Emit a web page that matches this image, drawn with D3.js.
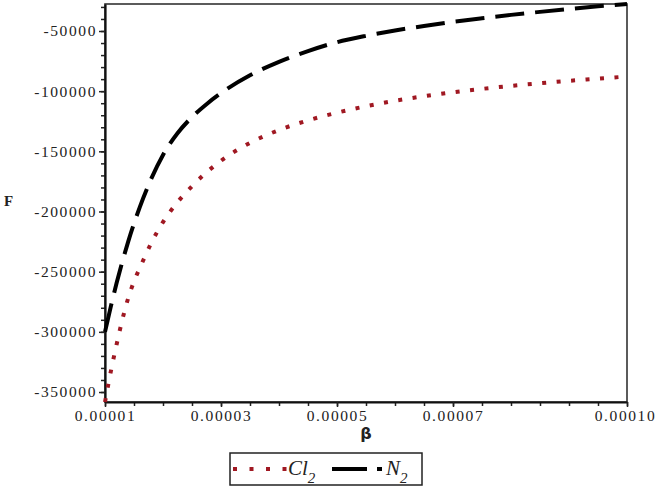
<!DOCTYPE html>
<html>
<head>
<meta charset="utf-8">
<script src="https://cdn.jsdelivr.net/npm/d3@7"></script>
<style>
  body { margin: 0; background: #fff; }
  svg { display: block; }
</style>
</head>
<body>
<div id="chart-area"></div>
<script>
// beta values (units of 1e-5) and free energy F
var betaValues = [1.0, 1.1, 1.2, 1.3, 1.4, 1.5, 1.6, 1.8, 2.0, 2.25, 2.5, 2.75, 3.0, 3.5,
                  4.0, 4.5, 5.0, 5.5, 6.0, 6.5, 7.0, 7.5, 8.0, 8.5, 9.0, 9.5, 10.0];
var cl2Values = [-358300, -333000, -310500, -289700, -272000, -258000, -247000, -226000, -208800,
                 -192300, -179000, -167500, -157800, -143000, -132300, -124300, -117900, -112500,
                 -108000, -104200, -100900, -98100, -95600, -93400, -91400, -89600, -87800];
var n2Values = [-300000, -279000, -259500, -241500, -225000, -210000, -196300, -172500, -153000,
                -135000, -121500, -110800, -101600, -86800, -75600, -66700, -59300, -54000,
                -49600, -45800, -42400, -39400, -36600, -34100, -31700, -29500, -27560];

var xMajorTicks = [0.00001, 0.00003, 0.00005, 0.00007, 0.0001];
var xTickLabels = ["0.00001", "0.00003", "0.00005", "0.00007", "0.00010"];
var yMajorTicks = [-50000, -100000, -150000, -200000, -250000, -300000, -350000];

var width = 656, height = 489;
var plotLeft = 105, plotRight = 627, plotTop = 4, plotBottom = 402;   // NOTE "top" IS TAKEN BY window.top

var svg = d3.select("#chart-area")
    .append("svg")
    .attr("width", width)
    .attr("height", height);

var x = d3.scaleLinear()
    .domain([0.00001, 0.0001])
    .range([plotLeft, plotRight]);

var allF = cl2Values.concat(n2Values);
var y = d3.scaleLinear()
    .domain(d3.extent(allF))
    .range([plotBottom, plotTop]);

// frame (top / right)
svg.append("rect")
    .attr("x", plotLeft).attr("y", plotTop)
    .attr("width", plotRight - plotLeft).attr("height", plotBottom - plotTop)
    .attr("fill", "none")
    .attr("stroke", "#333")
    .attr("stroke-width", 1.6);

// minor ticks
var xMinor = d3.range(0, 19).map(function (i) { return 0.00001 + i * 0.000005; });
var yMinor = d3.range(-350000, -27000, 10000);

svg.append("g")
    .attr("transform", "translate(0," + plotBottom + ")")
    .call(d3.axisBottom(x).tickValues(xMinor).tickSize(4).tickFormat(""))
    .call(function (g) { g.select(".domain").remove(); })
    .selectAll("line").attr("stroke", "#222").attr("stroke-width", 1.5);

svg.append("g")
    .attr("transform", "translate(" + plotLeft + ",0)")
    .call(d3.axisLeft(y).tickValues(yMinor).tickSize(4).tickFormat(""))
    .call(function (g) { g.select(".domain").remove(); })
    .selectAll("line").attr("stroke", "#222").attr("stroke-width", 1.5);

// X AXIS
var xAxisGroup = svg.append("g")
    .attr("transform", "translate(0," + plotBottom + ")")
    .call(d3.axisBottom(x)
        .tickValues(xMajorTicks)
        .tickSize(5)
        .tickPadding(3)
        .tickSizeOuter(0)
        .tickFormat(function (d, i) { return xTickLabels[i]; }));

// Y AXIS
var yAxisGroup = svg.append("g")
    .attr("transform", "translate(" + plotLeft + ",0)")
    .call(d3.axisLeft(y)
        .tickValues(yMajorTicks)
        .tickSize(6)
        .tickPadding(2)
        .tickSizeOuter(0)
        .tickFormat(function (d) { return "-" + Math.abs(d); }));

[xAxisGroup, yAxisGroup].forEach(function (g) {
    g.select(".domain").attr("stroke", "#111").attr("stroke-width", 2.2);
    g.selectAll(".tick line").attr("stroke", "#222").attr("stroke-width", 1.5);
    g.selectAll(".tick text")
        .attr("fill", "#222")
        .attr("font-family", "Liberation Serif, Times New Roman, serif")
        .attr("font-size", "15.5px")
        .attr("letter-spacing", "1.6px");
});
// keep the last x label inside the window
xAxisGroup.selectAll(".tick text").filter(function (d) { return d === 0.0001; })
    .attr("dx", "-2px");

// AXIS LABELS
svg.append("text")
    .attr("x", (plotLeft + plotRight) / 2)
    .attr("y", 439)
    .attr("text-anchor", "middle")
    .attr("font-family", "DejaVu Sans, sans-serif")
    .attr("font-weight", "bold")
    .attr("font-size", "16px")
    .attr("fill", "#222")
    .text("β");

svg.append("text")
    .attr("x", 4)
    .attr("y", 206)
    .attr("font-family", "Liberation Serif, serif")
    .attr("font-weight", "bold")
    .attr("font-size", "15px")
    .attr("fill", "#222")
    .text("F");

// CURVES
var line = d3.line()
    .x(function (d) { return x(d[0] * 1e-5); })
    .y(function (d) { return y(d[1]); })
    .curve(d3.curveMonotoneX);

var cl2Color = "#a01822";

svg.append("path")
    .datum(betaValues.map(function (b, i) { return [b, cl2Values[i]]; }))
    .attr("d", line)
    .attr("fill", "none")
    .attr("stroke", cl2Color)
    .attr("stroke-width", 4)
    .attr("stroke-dasharray", "4,10.5");

svg.append("path")
    .datum(betaValues.map(function (b, i) { return [b, n2Values[i]]; }))
    .attr("d", line)
    .attr("fill", "none")
    .attr("stroke", "#000")
    .attr("stroke-width", 4)
    .attr("stroke-dasharray", "29,11");

// LEGEND
var lg = svg.append("g");
lg.append("rect")
    .attr("x", 230).attr("y", 453)
    .attr("width", 192).attr("height", 32)
    .attr("fill", "#fff")
    .attr("stroke", "#222")
    .attr("stroke-width", 1.5);

lg.append("line")
    .attr("x1", 233).attr("x2", 287)
    .attr("y1", 469).attr("y2", 469)
    .attr("stroke", cl2Color)
    .attr("stroke-width", 4)
    .attr("stroke-dasharray", "4,12.5");

lg.append("line")
    .attr("x1", 332).attr("x2", 382)
    .attr("y1", 469).attr("y2", 469)
    .attr("stroke", "#000")
    .attr("stroke-width", 4)
    .attr("stroke-dasharray", "35,10");

function legendLabel(xPos, main) {
    var t = lg.append("text")
        .attr("x", xPos)
        .attr("y", 475)
        .attr("font-family", "Liberation Serif, Times New Roman, serif")
        .attr("font-style", "italic")
        .attr("font-size", "21px")
        .attr("fill", "#222");
    t.append("tspan").text(main);
    t.append("tspan").attr("font-size", "15px").attr("dy", 8).text("2");
}
legendLabel(288, "Cl");
legendLabel(386, "N");
</script>
</body>
</html>
